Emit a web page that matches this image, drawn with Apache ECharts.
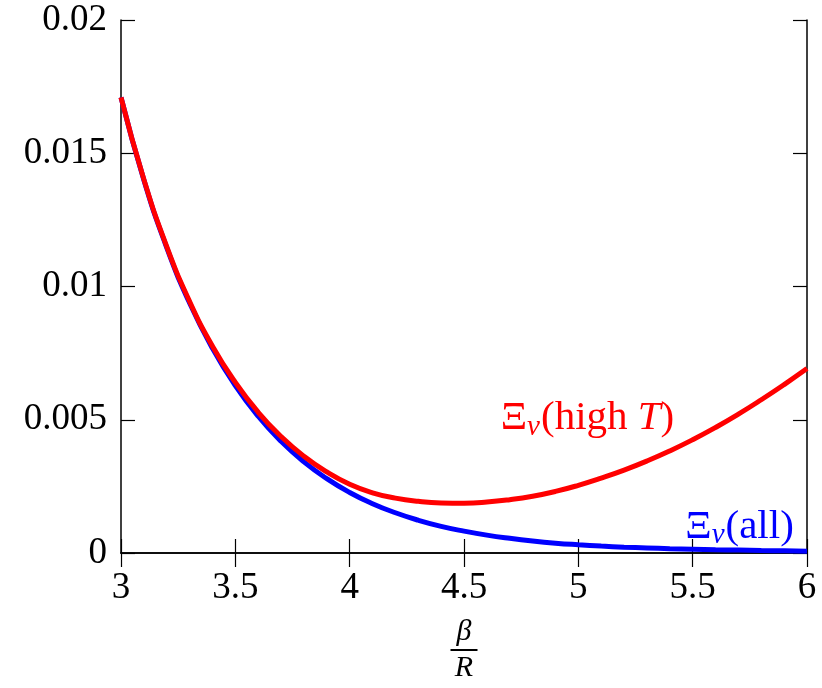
<!DOCTYPE html>
<html>
<head>
<meta charset="utf-8">
<script src="https://cdn.jsdelivr.net/npm/echarts@6/dist/echarts.min.js"></script>
<style>html,body{margin:0;padding:0;background:#fff;}#c{width:822px;height:688px;}</style>
</head>
<body>
<div id="c"></div>
<script>
// beta/R values
const xs = [3.0,3.1,3.2,3.3,3.4,3.5,3.6,3.7,3.8,3.9,4.0,4.1,4.2,4.3,4.4,4.5,4.6,4.7,4.8,4.9,5.0,5.1,5.2,5.3,5.4,5.5,5.6,5.7,5.8,5.9,6.0];
// Xi_v (high T)
const redVals = [0.0171,0.01402,0.01150,0.00944,0.00776,0.00640,0.00528,0.00437,0.00363,0.00304,0.00258,0.00226,0.00206,0.00194,0.00188,0.00187,0.00191,0.00200,0.00213,0.00231,0.00254,0.00281,0.00311,0.00345,0.00383,0.00425,0.00471,0.00521,0.00575,0.00632,0.00692];
// Xi_v (all)
const blueVals = [0.0171,0.01400,0.01146,0.00938,0.00768,0.00628,0.00513,0.00419,0.00342,0.00279,0.00227,0.00185,0.00151,0.00123,0.00100,0.00082,0.00067,0.00055,0.00045,0.00037,0.00031,0.00026,0.00022,0.00019,0.00016,0.00014,0.00012,0.00011,0.00009,0.00008,0.00007];
const xTicks = [3,3.5,4,4.5,5,5.5,6];
const yTicks = [0,0.005,0.01,0.015,0.02];
const redLabelPos = [5.04, 0.00505];
const blueLabelPos = [5.705, 0.00098];

const FONT = "'Liberation Serif','DejaVu Serif',serif";
const FS = 37;
const LFS = 41;
const chart = echarts.init(document.getElementById('c'), null, {renderer:'canvas'});
const axisLine = {show:true, lineStyle:{color:'#000', width:1.5}};
const tick = {show:true, inside:true, length:14, lineStyle:{color:'#000', width:1.2}};
function richFor(color){
  return {
    n:{fontFamily:FONT, fontSize:LFS, color:color},
    s:{fontFamily:FONT, fontSize:29, fontStyle:'italic', color:color, padding:[17,1,0,0]},
    i:{fontFamily:FONT, fontSize:LFS, fontStyle:'italic', color:color}
  };
}
chart.setOption({
  animation:false,
  backgroundColor:'#fff',
  grid:{left:121, right:15, top:20, bottom:133, containLabel:false},
  xAxis:[{
    type:'value', min:3, max:6, interval:0.5, position:'bottom',
    axisLine:axisLine, axisTick:tick, splitLine:{show:false},
    axisLabel:{fontFamily:FONT, fontSize:FS, color:'#000', margin:17,
      formatter:v=> xTicks.includes(+v.toFixed(2)) ? String(+v.toFixed(2)) : ''},
    name:'{b|β}\n{bar| }\n{r|R}', nameLocation:'middle', nameGap:64,
    nameTextStyle:{align:'center', rich:{
      b:{fontFamily:FONT, fontStyle:'italic', fontSize:30, lineHeight:30, color:'#000'},
      bar:{fontSize:1, lineHeight:6, height:2, width:27, backgroundColor:'#000'},
      r:{fontFamily:FONT, fontStyle:'italic', fontSize:30, lineHeight:30, color:'#000'}
    }}
  },{
    type:'value', min:3, max:6, interval:0.5, position:'top',
    axisLine:axisLine, axisTick:tick, axisLabel:{show:false}, splitLine:{show:false}
  }],
  yAxis:[{
    type:'value', min:0, max:0.02, interval:0.005, position:'left',
    axisLine:axisLine, axisTick:tick, splitLine:{show:false},
    axisLabel:{fontFamily:FONT, fontSize:FS, color:'#000', margin:14,
      formatter:v=> String(+v.toFixed(4))}
  },{
    type:'value', min:0, max:0.02, interval:0.005, position:'right',
    axisLine:axisLine, axisTick:tick, axisLabel:{show:false}, splitLine:{show:false}
  }],
  series:[{
    type:'line', name:'all', smooth:0.5, showSymbol:false,
    data: xs.map((x,i)=>[x, blueVals[i]]),
    lineStyle:{color:'#0000ff', width:5}, itemStyle:{color:'#0000ff'},
    markPoint:{symbol:'circle', symbolSize:0, silent:true,
      data:[{coord:blueLabelPos, label:{show:true, position:'inside',
        formatter:'{n|Ξ}{s|v}{n|(all)}', rich:richFor('#0000ff')}}]}
  },{
    type:'line', name:'high T', smooth:0.5, showSymbol:false,
    data: xs.map((x,i)=>[x, redVals[i]]),
    lineStyle:{color:'#ff0000', width:5}, itemStyle:{color:'#ff0000'},
    markPoint:{symbol:'circle', symbolSize:0, silent:true,
      data:[{coord:redLabelPos, label:{show:true, position:'inside',
        formatter:'{n|Ξ}{s|v}{n|(high }{i|T}{n|)}', rich:richFor('#ff0000')}}]}
  }]
});
</script>
</body>
</html>
